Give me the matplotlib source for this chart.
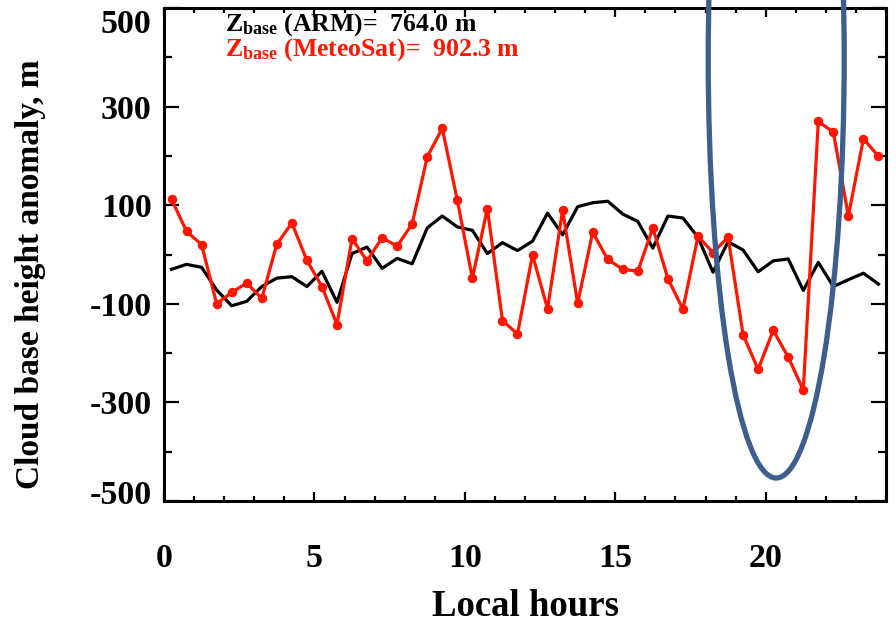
import numpy as np
import matplotlib
matplotlib.use("Agg")
import matplotlib.pyplot as plt
from matplotlib.patches import Ellipse
from matplotlib.transforms import ScaledTranslation
from matplotlib.ticker import FixedLocator, MultipleLocator

plt.rcParams['font.family'] = ['Liberation Serif', 'DejaVu Serif']
plt.rcParams['font.weight'] = 'bold'
plt.rcParams['mathtext.fontset'] = 'custom'
plt.rcParams['mathtext.rm'] = 'Liberation Serif:bold'
plt.rcParams['mathtext.bf'] = 'Liberation Serif:bold'
plt.rcParams['mathtext.it'] = 'Liberation Serif:bold'

# ---- data ----
hours = [0.25, 0.75, 1.25, 1.75, 2.25, 2.75, 3.25, 3.75, 4.25, 4.75, 5.25, 5.75,
         6.25, 6.75, 7.25, 7.75, 8.25, 8.75, 9.25, 9.75, 10.25, 10.75, 11.25, 11.75,
         12.25, 12.75, 13.25, 13.75, 14.25, 14.75, 15.25, 15.75, 16.25, 16.75, 17.25, 17.75,
         18.25, 18.75, 19.25, 19.75, 20.25, 20.75, 21.25, 21.75, 22.25, 22.75, 23.25, 23.75]
arm = [-30, -20, -26, -72, -104, -95, -65, -48, -45, -65, -34, -97,
       2, 15, -28, -8, -19, 54, 78, 56, 49, 2, 24, 8,
       27, 84, 40, 97, 105, 108, 82, 67, 13, 78, 74, 35,
       -36, 26, 9, -35, -13, -9, -73, -16, -65, -51, -38, -60]
meteosat = [112, 47, 20, -100, -77, -58, -89, 21, 64, -12, -65, -142,
            32, -13, 34, 17, 62, 198, 256, 110, -48, 93, -134, -161,
            -1, -110, 90, -99, 45, -10, -30, -34, 54, -49, -111, 37,
            4, 35, -163, -233, -154, -208, -275, 270, 248, 78, 235, 199]
zbase_arm = 764.0
zbase_sat = 902.3
xticks = [0, 5, 10, 15, 20]
yticks = [-500, -300, -100, 100, 300, 500]

fig = plt.figure(figsize=(8.96, 6.27), dpi=100)
ax = fig.add_axes([164/896, 1 - 501/627, 722/896, 493/627])

ax.plot(hours, arm, color='black', lw=2.3, zorder=3)
ax.plot(hours, meteosat, color='#ff1500', lw=2.3, marker='o', ms=5.8, zorder=4)

ax.set_xlim(0, 24)
ax.set_ylim(-500, 500)
ax.xaxis.set_major_locator(FixedLocator(xticks))
ax.xaxis.set_minor_locator(MultipleLocator(1))
ax.yaxis.set_major_locator(FixedLocator(yticks))
ax.yaxis.set_minor_locator(MultipleLocator(100))
ax.set_xticklabels([str(v) for v in xticks])
ax.set_yticklabels([str(v) for v in yticks])

for s in ax.spines.values():
    s.set_linewidth(2.2)
ax.tick_params(axis='x', which='major', direction='in', length=6.5, width=1.6,
               top=True, bottom=True, labelsize=24.5, pad=30)
ax.tick_params(axis='x', which='minor', direction='in', length=3.8, width=1.6,
               top=True, bottom=True)
ax.tick_params(axis='y', which='major', direction='in', length=11, width=1.6,
               left=True, right=True, labelsize=24.5, pad=9)
ax.tick_params(axis='y', which='minor', direction='in', length=6, width=1.6,
               left=True, right=True)

ax.set_xlabel('Local hours', fontsize=26.5, fontweight='bold')
ax.xaxis.set_label_coords(0.5, -0.215)
ax.xaxis.label.set_va('center')
ax.set_ylabel('Cloud base height anomaly, m', fontsize=24, fontweight='bold')
ax.yaxis.set_label_coords(-0.185, 0.46)
ax.yaxis.label.set_va('center')

# end labels shifted inward
ticks = ax.yaxis.get_major_ticks()
for t, v in zip(ticks, yticks):
    if v == 500:
        t.label1.set_transform(t.label1.get_transform() + ScaledTranslation(0, -13/100, fig.dpi_scale_trans))
    if v == -500:
        t.label1.set_transform(t.label1.get_transform() + ScaledTranslation(0, 9/100, fig.dpi_scale_trans))

ax.text(0.085, 0.955, r'$\mathbf{Z_{base}}$ (ARM)=  %.1f m' % zbase_arm, transform=ax.transAxes,
        fontsize=18.5, color='black', fontweight='bold', va='baseline')
ax.text(0.085, 0.903, r'$\mathbf{Z_{base}}$ (MeteoSat)=  %.1f m' % zbase_sat, transform=ax.transAxes,
        fontsize=18.5, color='#ff1500', fontweight='bold', va='baseline')

ell = Ellipse((20.35, 398.6), 4.52, 1704, fill=False, edgecolor='#3d5f8e', lw=3.8,
              clip_on=False, zorder=5)
ax.add_patch(ell)

fig.savefig('out.png', dpi=100)
